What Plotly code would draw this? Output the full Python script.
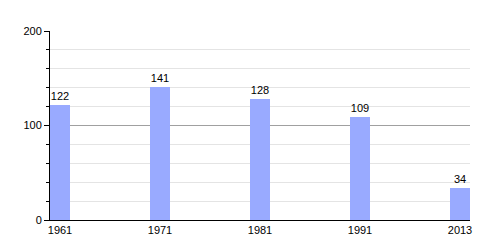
import plotly.graph_objects as go

years = ["1961", "1971", "1981", "1991", "2013"]
values = [122, 141, 128, 109, 34]
y_ticks = [0, 100, 200]

idx = list(range(len(years)))

fig = go.Figure()
fig.add_trace(go.Bar(
    x=idx, y=values, width=0.2, offset=0,
    marker=dict(color="#99aaff", line=dict(width=0)),
    text=[str(v) for v in values], textposition="outside",
    textfont=dict(family="Liberation Sans, Arial", size=11, color="#000"),
    cliponaxis=False,
))
fig.update_layout(
    width=500, height=250,
    margin=dict(l=50, r=30, t=31, b=30),
    paper_bgcolor="white", plot_bgcolor="white",
    showlegend=False,
    font=dict(family="Liberation Sans, Arial", size=11, color="#000"),
    xaxis=dict(range=[0, 4.2], tickvals=[i + 0.1 for i in idx], ticktext=years,
               showgrid=False, zeroline=False, showline=True, linecolor="black",
               linewidth=1, ticks="", tickfont=dict(size=11)),
    yaxis=dict(range=[0, 200], tickvals=y_ticks, showgrid=True, gridcolor="#a0a0a0",
               gridwidth=1, zeroline=False, showline=True, linecolor="black",
               linewidth=1, ticks="outside", ticklen=5, tickcolor="black",
               tickfont=dict(size=11),
               minor=dict(dtick=20, showgrid=True, gridcolor="#e4e4e4",
                          ticks="outside", ticklen=3, tickcolor="black")),
    bargap=0,
)
fig.write_html("out.html")
